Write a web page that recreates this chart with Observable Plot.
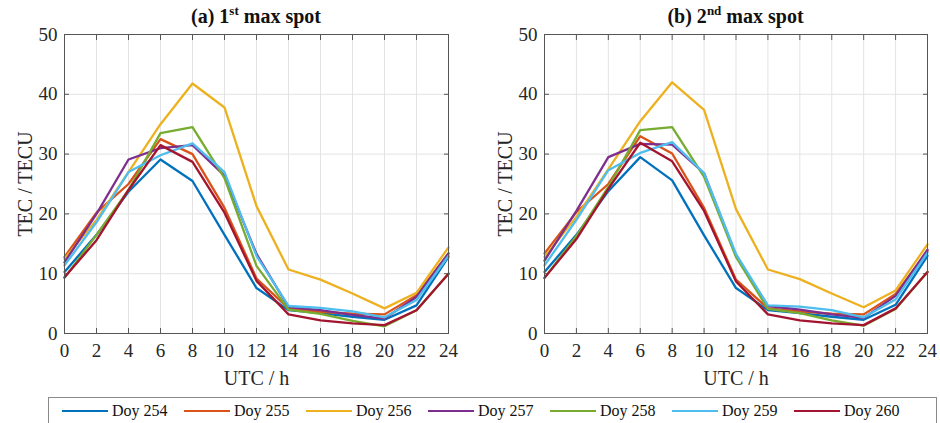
<!DOCTYPE html>
<html>
<head>
<meta charset="utf-8">
<script src="https://cdn.jsdelivr.net/npm/d3@7"></script>
<script src="https://cdn.jsdelivr.net/npm/@observablehq/plot@0.6"></script>
<style>
  body { margin: 0; background: white; font-family: "Liberation Serif", "Times New Roman", "DejaVu Serif", Times, serif; }
  #wrap { position: relative; width: 940px; height: 423px; overflow: hidden; }
  .panel { position: absolute; top: 0; }
  .panel svg, .panel svg text { font-family: "Liberation Serif", "Times New Roman", "DejaVu Serif", Times, serif !important; }
  .title { position: absolute; top: 3px; font-weight: bold; font-size: 20px; color: #111; text-align: center; }
  .title sup { font-size: 13px; }
  #legend { position: absolute; left: 48px; top: 397px; width: 887px; height: 30px; border: 1px solid #8a8a8a; background: white; }
  .item { position: absolute; top: 4px; display: flex; align-items: center; font-size: 16px; color: #111; }
  .sw { width: 46px; height: 0; border-top: 2.4px solid; margin-right: 4px; }
</style>
</head>
<body>
<div id="wrap"></div>
<script>
const hours = [0, 2, 4, 6, 8, 10, 12, 14, 16, 18, 20, 22, 24];
const yTicks = [0, 10, 20, 30, 40, 50];
const series = ["Doy 254", "Doy 255", "Doy 256", "Doy 257", "Doy 258", "Doy 259", "Doy 260"];
const colors = ["#0072BD", "#D95319", "#EDB120", "#7E2F8E", "#77AC30", "#4DBEEE", "#A2142F"];

// (a) 1st max spot
const a254 = [10.3, 16.5, 23.7, 29.1, 25.5, 16.5, 7.6, 3.9, 3.4, 2.8, 2.3, 4.7, 12.8];
const a255 = [12.8, 20.2, 25.0, 32.5, 30.0, 21.0, 9.2, 4.2, 3.6, 3.3, 3.2, 6.4, 13.4];
const a256 = [12.5, 19.0, 27.0, 35.0, 41.8, 37.8, 21.3, 10.7, 9.0, 6.7, 4.2, 6.8, 14.4];
const a257 = [11.9, 20.0, 29.1, 31.0, 31.5, 26.4, 13.3, 4.4, 3.9, 3.1, 2.5, 6.1, 13.4];
const a258 = [9.3, 16.5, 24.0, 33.5, 34.5, 26.0, 11.3, 4.0, 3.3, 2.1, 1.2, 3.9, 10.0];
const a259 = [11.4, 18.6, 27.0, 29.8, 31.8, 27.0, 13.0, 4.6, 4.3, 3.7, 2.7, 5.6, 13.0];
const a260 = [9.4, 15.6, 24.0, 31.5, 28.7, 20.2, 8.8, 3.2, 2.2, 1.7, 1.4, 3.9, 10.0];

// (b) 2nd max spot
const b254 = [10.3, 16.5, 23.8, 29.5, 25.6, 16.4, 7.6, 3.9, 3.4, 2.8, 2.3, 4.8, 13.0];
const b255 = [13.4, 20.3, 25.0, 33.0, 30.1, 21.0, 9.0, 4.2, 3.7, 3.3, 3.2, 6.6, 13.8];
const b256 = [12.8, 19.5, 27.5, 35.5, 42.0, 37.4, 20.8, 10.7, 9.1, 6.7, 4.4, 7.2, 14.9];
const b257 = [12.2, 20.5, 29.5, 31.7, 31.6, 26.8, 13.0, 4.6, 4.0, 3.2, 2.6, 6.3, 14.0];
const b258 = [9.3, 16.3, 24.5, 34.0, 34.5, 26.2, 12.8, 4.1, 3.4, 2.2, 1.3, 4.1, 10.3];
const b259 = [11.4, 19.0, 27.3, 30.2, 32.0, 26.8, 13.3, 4.7, 4.5, 3.9, 2.7, 5.7, 13.5];
const b260 = [9.3, 15.8, 24.2, 31.9, 28.8, 20.5, 8.7, 3.2, 2.2, 1.7, 1.4, 4.2, 10.3];

function rows(list) {
  const out = [];
  list.forEach((vals, k) => vals.forEach((v, i) => out.push({hour: hours[i], tec: v, doy: series[k]})));
  return out;
}

const serif = "Liberation Serif, Times New Roman, DejaVu Serif, serif";

function panel(data, left, mLeft, mRight, titleHTML) {
  const chart = Plot.plot({
    width: 470, height: 390,
    marginLeft: mLeft, marginRight: mRight, marginTop: 34, marginBottom: 57,
    style: {fontFamily: serif, fontSize: "19px", color: "#262626", background: "white", overflow: "visible"},
    x: {domain: [0, 24]},
    y: {domain: [0, 50]},
    color: {domain: series, range: colors},
    marks: [
      Plot.gridX(hours, {stroke: "#e3e3e3", strokeOpacity: 1}),
      Plot.gridY(yTicks, {stroke: "#e3e3e3", strokeOpacity: 1}),
      Plot.axisX(hours, {tickSize: -5, tickPadding: 15, stroke: "#555", fontSize: 19, fontVariant: "normal", label: null}),
      Plot.axisX({anchor: "bottom", ticks: [], label: "UTC / h", labelArrow: "none", labelAnchor: "center", labelOffset: 51, fontSize: 20}),
      Plot.axisX(hours, {anchor: "top", tickSize: -5, stroke: "#555", tickFormat: () => "", label: null}),
      Plot.axisY(yTicks, {tickSize: -5, tickPadding: 12, stroke: "#555", fontSize: 19, fontVariant: "normal", label: null}),
      Plot.axisY({anchor: "left", ticks: [], label: "TEC / TECU", labelArrow: "none", labelAnchor: "center", labelOffset: 47, fontSize: 20}),
      Plot.axisY(yTicks, {anchor: "right", tickSize: -5, stroke: "#555", tickFormat: () => "", label: null}),
      Plot.line(data, {x: "hour", y: "tec", stroke: "doy", z: "doy", strokeWidth: 2.3}),
      Plot.frame({stroke: "#555", strokeWidth: 1})
    ]
  });
  const div = document.createElement("div");
  div.className = "panel";
  div.style.left = left + "px";
  div.appendChild(chart);
  const t = document.createElement("div");
  t.className = "title";
  t.style.left = mLeft + "px";
  t.style.width = (470 - mLeft - mRight) + "px";
  t.innerHTML = titleHTML;
  div.appendChild(t);
  document.getElementById("wrap").appendChild(div);
}

panel(rows([a254, a255, a256, a257, a258, a259, a260]), 0, 64, 22, "(a) 1<sup>st</sup> max spot");
panel(rows([b254, b255, b256, b257, b258, b259, b260]), 470, 74, 13, "(b) 2<sup>nd</sup> max spot");

const legend = document.createElement("div");
legend.id = "legend";
series.forEach((s, i) => {
  const it = document.createElement("div");
  it.className = "item";
  it.style.left = (13 + i * 122) + "px";
  it.innerHTML = `<div class="sw" style="border-color:${colors[i]}"></div><span>${s}</span>`;
  legend.appendChild(it);
});
document.getElementById("wrap").appendChild(legend);
</script>
</body>
</html>
